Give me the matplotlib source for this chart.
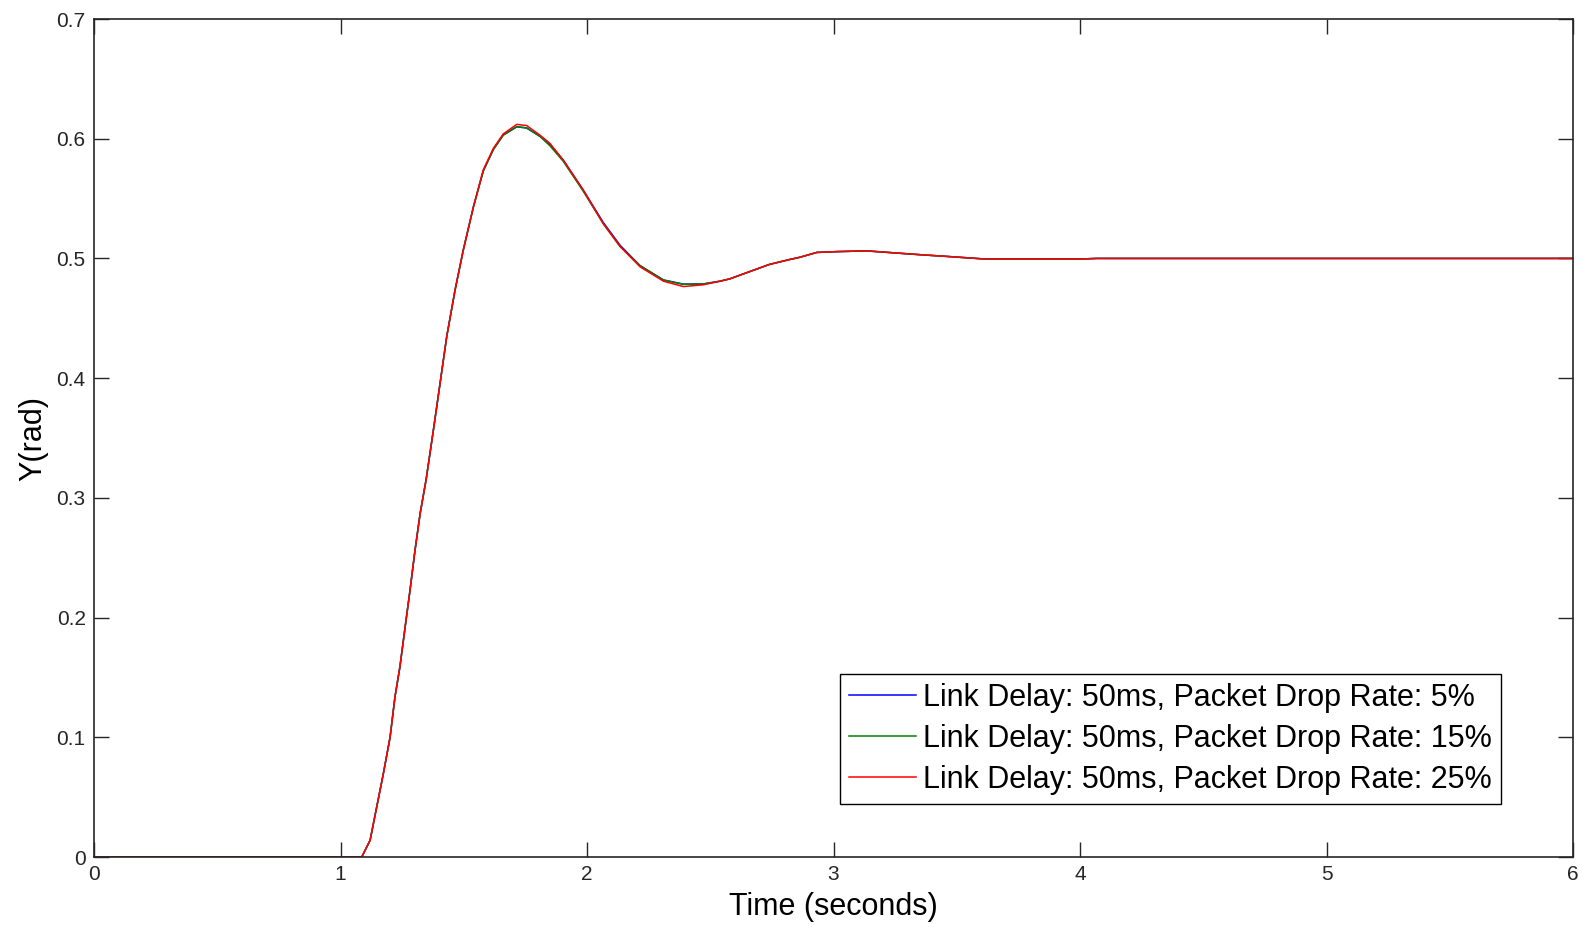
import matplotlib
matplotlib.use('Agg')
import matplotlib.pyplot as plt

# step responses
t = [0.0, 1.086, 1.120, 1.147, 1.174, 1.201, 1.221, 1.241, 1.262, 1.282,
     1.302, 1.323, 1.347, 1.377, 1.404, 1.431, 1.465, 1.498, 1.539, 1.579,
     1.620, 1.660, 1.715, 1.755, 1.809, 1.850, 1.904, 1.985, 2.066, 2.134,
     2.215, 2.310, 2.391, 2.472, 2.540, 2.580, 2.660, 2.740, 2.820, 2.864,
     2.932, 3.013, 3.135, 3.270, 3.360, 3.473, 3.608, 4.013, 4.068, 5.0, 6.0]

y_5 = [0.0, 0.0, 0.014, 0.042, 0.070, 0.100, 0.134, 0.159, 0.192, 0.223,
       0.256, 0.287, 0.315, 0.357, 0.396, 0.435, 0.474, 0.507, 0.543, 0.573,
       0.591, 0.603, 0.610, 0.609, 0.602, 0.595, 0.582, 0.557, 0.530, 0.511,
       0.494, 0.482, 0.4785, 0.4787, 0.481, 0.483, 0.489, 0.495, 0.499, 0.501,
       0.505, 0.5057, 0.5063, 0.5043, 0.503, 0.5015, 0.4996, 0.4996, 0.500, 0.500, 0.500]

y_15 = [0.0, 0.0, 0.014, 0.042, 0.070, 0.100, 0.134, 0.159, 0.192, 0.223,
        0.256, 0.287, 0.315, 0.357, 0.396, 0.435, 0.474, 0.507, 0.543, 0.573,
        0.591, 0.603, 0.610, 0.609, 0.602, 0.594, 0.581, 0.556, 0.529, 0.510,
        0.494, 0.482, 0.4784, 0.4787, 0.481, 0.483, 0.489, 0.495, 0.499, 0.501,
        0.505, 0.5057, 0.5063, 0.5043, 0.503, 0.5015, 0.4996, 0.4996, 0.500, 0.500, 0.500]

y_25 = [0.0, 0.0, 0.014, 0.042, 0.070, 0.100, 0.134, 0.159, 0.192, 0.223,
        0.256, 0.287, 0.315, 0.357, 0.396, 0.435, 0.474, 0.507, 0.543, 0.574,
        0.592, 0.604, 0.612, 0.611, 0.603, 0.596, 0.582, 0.557, 0.529, 0.510,
        0.493, 0.481, 0.4765, 0.478, 0.481, 0.483, 0.489, 0.495, 0.499, 0.501,
        0.505, 0.5057, 0.5063, 0.5043, 0.503, 0.5015, 0.4996, 0.4996, 0.500, 0.500, 0.500]

labels = ['Link Delay: 50ms, Packet Drop Rate: 5%',
          'Link Delay: 50ms, Packet Drop Rate: 15%',
          'Link Delay: 50ms, Packet Drop Rate: 25%']
colors = ['#0000ff', '#008000', '#ff0000']

plt.rcParams['font.family'] = ['Liberation Sans', 'DejaVu Sans']

fig = plt.figure(figsize=(15.83, 9.27), dpi=100)
ax = fig.add_axes([0.0594, 0.0755, 0.9343, 0.904])

for y, c, lab in zip([y_5, y_15, y_25], colors, labels):
    ax.plot(t, y, color=c, linewidth=1.1, label=lab)

ax.set_xlim(0, 6)
ax.set_ylim(0, 0.7)
ax.set_xticks(range(0, 7))
ax.set_yticks([0, 0.1, 0.2, 0.3, 0.4, 0.5, 0.6, 0.7])
ax.set_yticklabels(['0', '0.1', '0.2', '0.3', '0.4', '0.5', '0.6', '0.7'])

ax.tick_params(direction='in', top=True, right=True, length=11, width=1.0,
               color='#262626', labelsize=15, labelcolor='#262626')
ax.tick_params(axis='x', pad=6)
ax.tick_params(axis='y', pad=6)
for s in ax.spines.values():
    s.set_linewidth(1.2)
    s.set_color('#262626')

ax.set_xlabel('Time (seconds)', fontsize=22)
ax.set_ylabel('Y(rad)', fontsize=22)
ax.xaxis.set_label_coords(0.5, -0.06)
ax.xaxis.label.set_va('center')
ax.yaxis.set_label_coords(-0.041, 0.5)
ax.yaxis.label.set_va('center')

leg = ax.legend(loc='lower right', bbox_to_anchor=(0.951, 0.063), fontsize=22,
                frameon=True, fancybox=False, framealpha=1, edgecolor='black',
                borderaxespad=0, borderpad=0.3, labelspacing=0.36,
                handlelength=2.2, handletextpad=0.2)
leg.get_frame().set_linewidth(1.0)

fig.savefig('out.png', dpi=100)
